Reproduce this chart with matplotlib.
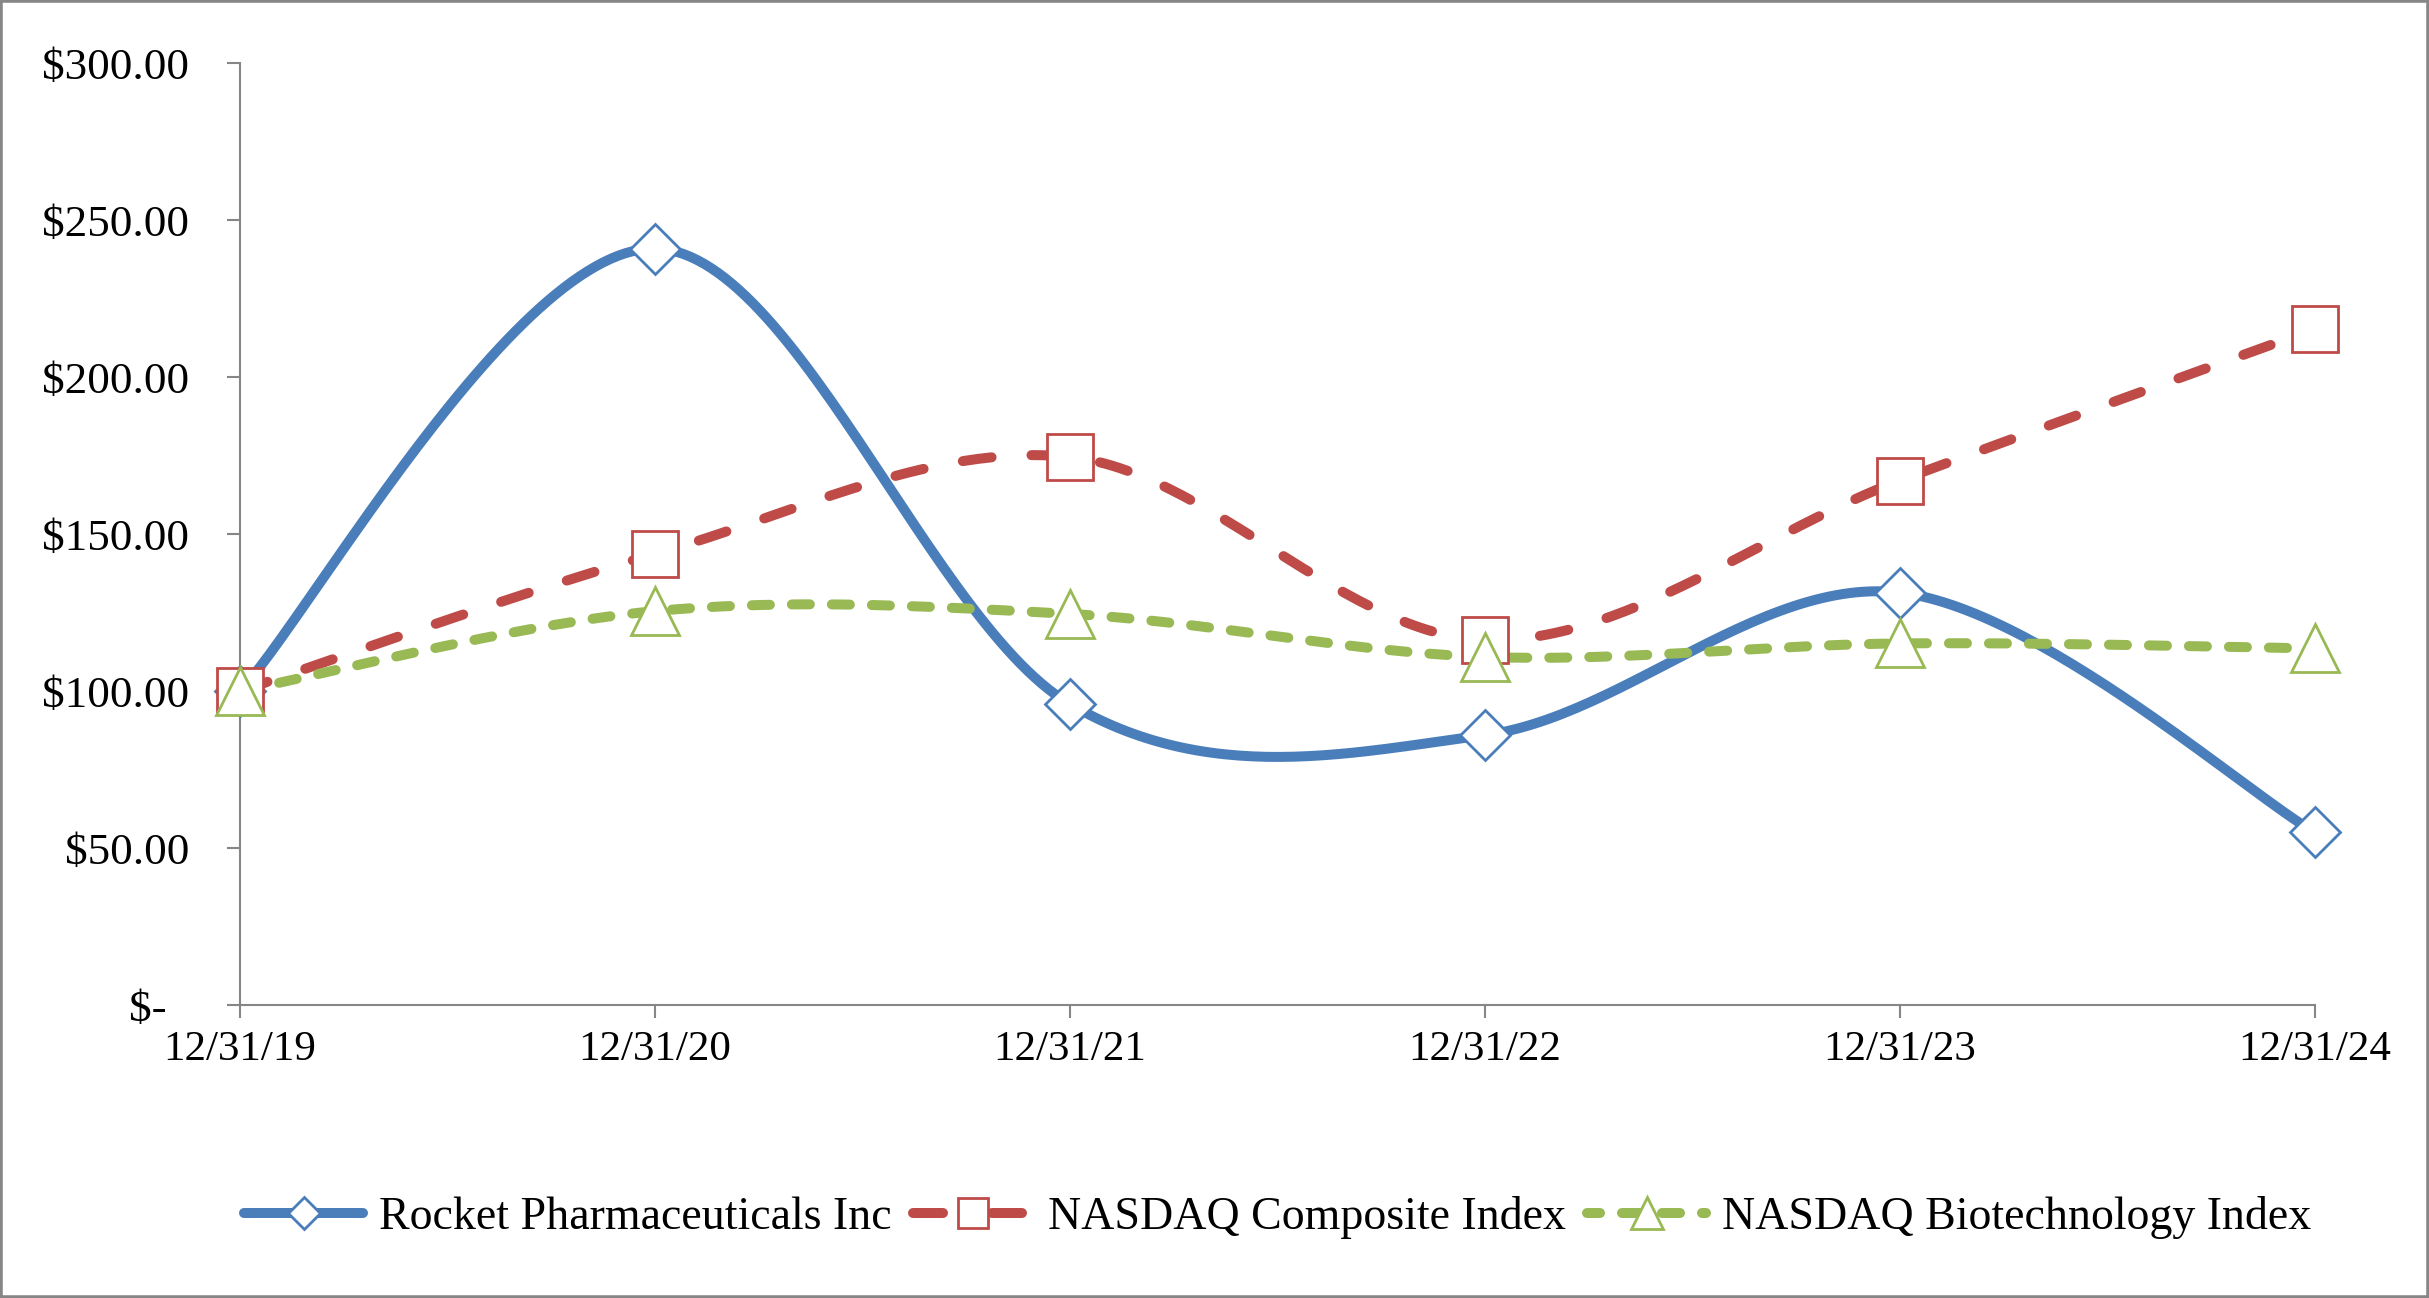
import numpy as np
import matplotlib
matplotlib.use("Agg")
import matplotlib.pyplot as plt
from matplotlib.lines import Line2D
from matplotlib.patches import Rectangle

plt.rcParams['font.family'] = ['Liberation Serif', 'DejaVu Serif']

dates = ['12/31/19', '12/31/20', '12/31/21', '12/31/22', '12/31/23', '12/31/24']
rocket = [100.00, 241.0, 95.9, 86.0, 131.4, 55.0]
nasdaq = [100.00, 143.7, 174.6, 116.3, 167.1, 215.4]
biotech = [100.00, 125.5, 124.6, 110.9, 115.2, 113.6]

names = ['Rocket Pharmaceuticals Inc', 'NASDAQ Composite Index', 'NASDAQ Biotechnology Index']
colors = ['#4A7EBB', '#BE4B48', '#98B954']
markers = ['D', 's', '^']
msizes = [25, 33, 35]
styles = ['-', (0, (2.9, 4.0)), (0, (1.8, 2.2))]
leg_styles = ['-', (0, (3.0, 4.9)), (0.5, (1.8, 2.2))]

yticks = [0, 50, 100, 150, 200, 250, 300]
ylabels = ['$-  ', '$50.00', '$100.00', '$150.00', '$200.00', '$250.00', '$300.00']

GRAY = '#868686'
LW = 7.2


def smooth(x, y, n=60):
    # Excel-like smoothed line: cubic bezier with catmull-rom control points
    x = np.asarray(x, float)
    y = np.asarray(y, float)
    px = np.concatenate([[x[0]], x, [x[-1]]])
    py = np.concatenate([[y[0]], y, [y[-1]]])
    xs, ys = [], []
    t = np.linspace(0, 1, n)
    for i in range(1, len(x)):
        p0 = np.array([px[i], py[i]])
        p3 = np.array([px[i + 1], py[i + 1]])
        c1 = p0 + (np.array([px[i + 1], py[i + 1]]) - np.array([px[i - 1], py[i - 1]])) / 6
        c2 = p3 - (np.array([px[i + 2], py[i + 2]]) - np.array([px[i], py[i]])) / 6
        b = ((1 - t) ** 3)[:, None] * p0 + (3 * (1 - t) ** 2 * t)[:, None] * c1 \
            + (3 * (1 - t) * t ** 2)[:, None] * c2 + (t ** 3)[:, None] * p3
        xs.append(b[:, 0])
        ys.append(b[:, 1])
    return np.concatenate(xs), np.concatenate(ys)


fig = plt.figure(figsize=(24.29, 12.98), dpi=100)
ax = fig.add_axes([0.0988, 0.2257, 0.9530 - 0.0988, 0.9512 - 0.2257])

xpos = np.arange(len(dates))
handles = []
for k, vals in enumerate([rocket, nasdaq, biotech]):
    sx, sy = smooth(xpos, vals)
    ax.plot(sx, sy, color=colors[k], lw=LW, linestyle=styles[k],
            dash_capstyle='round', solid_capstyle='round', zorder=2 + k, clip_on=False)
    ax.plot(xpos, vals, linestyle='none', marker=markers[k], ms=msizes[k],
            mfc='white', mec=colors[k], mew=2, zorder=6 + k, clip_on=False)
    handles.append(Line2D([], [], color=colors[k], lw=LW, linestyle=leg_styles[k],
                          dash_capstyle='round', solid_capstyle='round',
                          marker=markers[k], ms=msizes[k], mfc='white',
                          mec=colors[k], mew=2))

ax.set_xlim(0, len(dates) - 1)
ax.set_ylim(0, 300)
ax.set_xticks(xpos)
ax.set_xticklabels(dates)
ax.set_yticks(yticks)
ax.set_yticklabels(ylabels)

ax.tick_params(axis='both', direction='out', length=9.5, width=1.5, color=GRAY,
               labelcolor='black')
ax.tick_params(axis='y', pad=27, labelsize=32.5)
ax.tick_params(axis='x', pad=9, labelsize=31)

for side in ['top', 'right']:
    ax.spines[side].set_visible(False)
for side in ['left', 'bottom']:
    ax.spines[side].set_color(GRAY)
    ax.spines[side].set_linewidth(1.5)

fig.legend(handles=handles, labels=names, loc='center', bbox_to_anchor=(0.526, 0.062),
           ncol=3, frameon=False, fontsize=33, markerscale=0.65,
           handlelength=2.6, handletextpad=0.34, columnspacing=0.47)

fig.patches.append(Rectangle((0, 0), 1, 1, transform=fig.transFigure, fill=False,
                             edgecolor=GRAY, lw=4, zorder=10))

fig.savefig('out.png', dpi=100)
